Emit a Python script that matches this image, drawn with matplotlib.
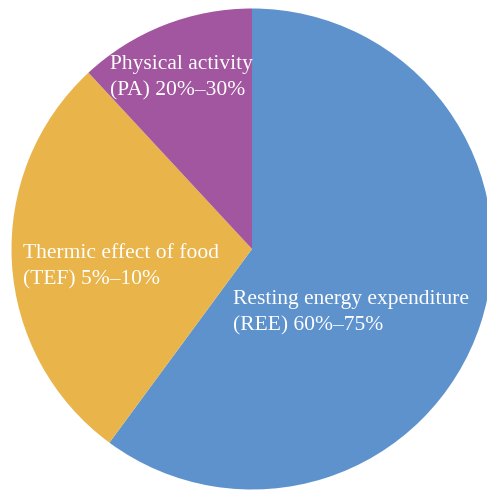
import matplotlib
matplotlib.use('Agg')
from matplotlib import pyplot as plt

plt.rcParams['font.family'] = 'serif'
plt.rcParams['font.serif'] = ['Liberation Serif', 'DejaVu Serif']

# Shares of daily energy expenditure
shares = [60.1, 28.0, 11.9]
colors = ['#5D92CD', '#E9B44A', '#A2569F']
line1 = ['Resting energy expenditure', 'Thermic effect of food', 'Physical activity']
line2 = ['(REE) 60%\u201375%', '(TEF) 5%\u201310%', '(PA) 20%\u201330%']

# label anchors, pixel coords in the 487x492 image (left x, first baseline y)
label_px = [(233, 304), (23, 258), (110, 69)]
line_gap = 26

cx, cy, r = 252, 249, 240.5  # pie centre and radius in pixels

fig = plt.figure(figsize=(4.87, 4.92), dpi=100)
ax = fig.add_axes([0, 0, 1, 1])
ax.pie(shares, colors=colors, startangle=90, counterclock=False,
       radius=1, wedgeprops={'linewidth': 0})
ax.set_xlim(-cx / r, (487 - cx) / r)
ax.set_ylim((cy - 492) / r, cy / r)
ax.set_aspect('equal')
ax.axis('off')

for (px, py), a, b in zip(label_px, line1, line2):
    for k, txt in enumerate([a, b]):
        ax.text((px - cx) / r, (cy - py - k * line_gap) / r, txt,
                color='white', fontsize=15.5,
                ha='left', va='baseline')

fig.savefig('out.png', dpi=100, facecolor='white')
